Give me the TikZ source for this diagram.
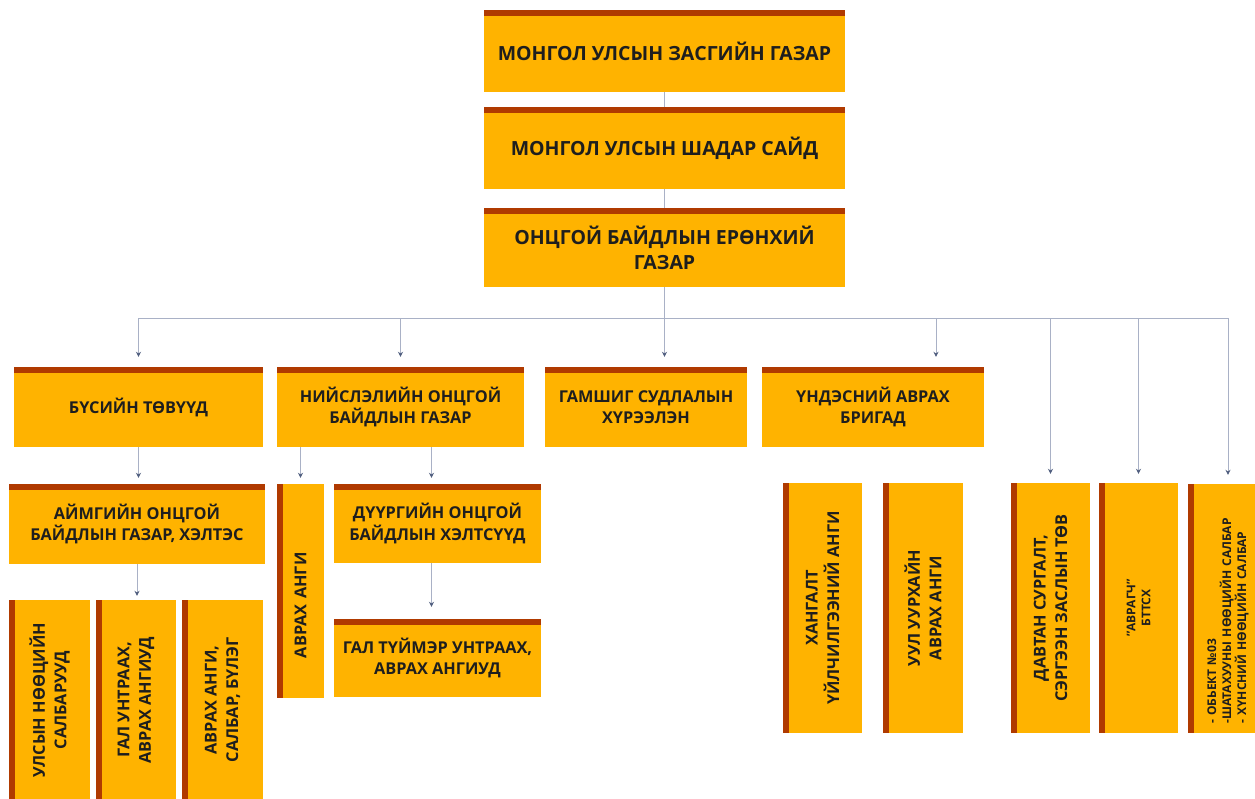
\documentclass[tikz,border=0pt]{standalone}
\usepackage{fontspec}
\setmainfont{Open Sans}
\usetikzlibrary{arrows.meta,calc}

\definecolor{boxfill}{HTML}{FFB300}
\definecolor{boxbar}{HTML}{B03A00}
\definecolor{linkgray}{HTML}{A9B1C6}
\definecolor{tipblue}{HTML}{4F5D7E}
\definecolor{txt}{HTML}{1E1E1E}

\begin{document}
\begin{tikzpicture}[x=1pt, y=-1pt,
		unit/.style={fill=boxfill, text=txt, align=center, inner sep=4pt,
			font=\bfseries\fontsize{16.3}{21.5}\selectfont},
		head/.style={unit, font=\bfseries\fontsize{19.5}{25}\selectfont},
		side/.style={unit, rotate=90},
		small/.style={font=\bfseries\fontsize{12}{15}\selectfont},
		link/.style={draw=linkgray, line width=0.9pt},
		feed/.style={link, -{Stealth[length=5pt, width=5pt, color=tipblue]}, shorten >=6pt}]
	\useasboundingbox (0,0) rectangle (1255,798);

	\node[head, minimum width=361pt, minimum height=82pt] (gov) at (664.5,51) {МОНГОЛ УЛСЫН ЗАСГИЙН ГАЗАР};
	\node[head, minimum width=361pt, minimum height=82pt] (deputy) at (664.5,148) {МОНГОЛ УЛСЫН ШАДАР САЙД};
	\node[head, minimum width=361pt, minimum height=79pt] (emerg) at (664.5,247.5) {ОНЦГОЙ БАЙДЛЫН ЕРӨНХИЙ\\ГАЗАР};

	\node[unit, minimum width=249pt, minimum height=80pt] (regional) at (138.5,407) {БҮСИЙН ТӨВҮҮД};
	\node[unit, minimum width=247pt, minimum height=80pt] (capital) at (400.5,407) {НИЙСЛЭЛИЙН ОНЦГОЙ\\БАЙДЛЫН ГАЗАР};
	\node[unit, minimum width=202pt, minimum height=80pt] (institute) at (646,407) {ГАМШИГ СУДЛАЛЫН\\ХҮРЭЭЛЭН};
	\node[unit, minimum width=222pt, minimum height=80pt] (brigade) at (873,407) {ҮНДЭСНИЙ АВРАХ\\БРИГАД};

	\node[unit, minimum width=256pt, minimum height=80pt] (aimag) at (137,524) {АЙМГИЙН ОНЦГОЙ\\БАЙДЛЫН ГАЗАР, ХЭЛТЭС};
	\node[side, align=left, text width=134pt, minimum width=214pt, minimum height=47pt] (rescue) at (300.5,591) {АВРАХ АНГИ};
	\node[unit, minimum width=207pt, minimum height=79pt] (district) at (437.5,523.5) {ДҮҮРГИЙН ОНЦГОЙ\\БАЙДЛЫН ХЭЛТСҮҮД};
	\node[unit, minimum width=207pt, minimum height=78pt] (firefight) at (437.5,658) {ГАЛ ТҮЙМЭР УНТРААХ,\\АВРАХ АНГИУД};

	\node[side, minimum width=250pt, minimum height=79pt] (supply) at (822.5,608) {ХАНГАЛТ\\ҮЙЛЧИЛГЭЭНИЙ АНГИ};
	\node[side, minimum width=250pt, minimum height=80pt] (mine) at (923,608) {УУЛ УУРХАЙН\\АВРАХ АНГИ};
	\node[side, minimum width=250pt, minimum height=79pt] (training) at (1050.5,608) {ДАВТАН СУРГАЛТ,\\СЭРГЭЭН ЗАСЛЫН ТӨВ};
	\node[side, small, minimum width=250pt, minimum height=79pt] (avragch) at (1138.5,608) {"АВРАГЧ"\\БТТСХ};
	\node[side, small, align=left, text width=230pt, minimum width=249pt, minimum height=80pt] (object) at (1228,608.5)
		{- ОБЬЕКТ №03\\-ШАТАХУУНЫ НӨӨЦИЙН САЛБАР\\- ХҮНСНИЙ НӨӨЦИЙН САЛБАР};

	\node[side, minimum width=200pt, minimum height=81pt] (reserve) at (49.5,700) {УЛСЫН НӨӨЦИЙН\\САЛБАРУУД};
	\node[side, minimum width=200pt, minimum height=80pt] (fireb) at (136,700) {ГАЛ УНТРААХ,\\АВРАХ АНГИУД};
	\node[side, minimum width=200pt, minimum height=81pt] (branches) at (222.5,700) {АВРАХ АНГИ,\\САЛБАР, БҮЛЭГ};

	\foreach \n in {gov,deputy,emerg,regional,capital,institute,brigade,aimag,district,firefight,
			rescue,supply,mine,training,avragch,object,reserve,fireb,branches}
		\fill[boxbar] (\n.north west) -- (\n.north east) -- ($(\n.north east)!6.5pt!(\n.south east)$)
			-- ($(\n.north west)!6.5pt!(\n.south west)$) -- cycle;

	\coordinate (bus) at ([yshift=-31pt]emerg.south);
	\draw[link] (gov.south) -- (deputy.north);
	\draw[link] (deputy.south) -- (emerg.north);
	\draw[link] (emerg.south) -- (bus);
	\draw[link] (bus -| regional.north) -- (bus -| object);

	\draw[feed, shorten >=10pt] (bus -| regional.north) -- (regional.north);
	\draw[feed, shorten >=10pt] (bus -| capital.north) -- (capital.north);
	\draw[feed, shorten >=10pt] (bus) -- (bus |- institute.north);
	\draw[feed, shorten >=10pt] ([xshift=63pt]bus -| brigade.north) -- ([xshift=63pt]brigade.north);
	\foreach \n in {training,avragch,object}
		\draw[feed, shorten >=9pt] (bus -| \n) -- (\n.east);

	\draw[feed] (regional.south) -- (regional.south |- aimag.north);
	\draw[feed] (capital.south -| rescue) -- (rescue.east);
	\draw[feed] ([xshift=-6pt]capital.south -| district.north) -- ([xshift=-6pt]district.north);
	\draw[feed, shorten >=4pt] (aimag.south) -- (aimag.south |- fireb.east);
	\draw[feed, shorten >=12pt] ([xshift=-6pt]district.south) -- ([xshift=-6pt]firefight.north);
\end{tikzpicture}
\end{document}
